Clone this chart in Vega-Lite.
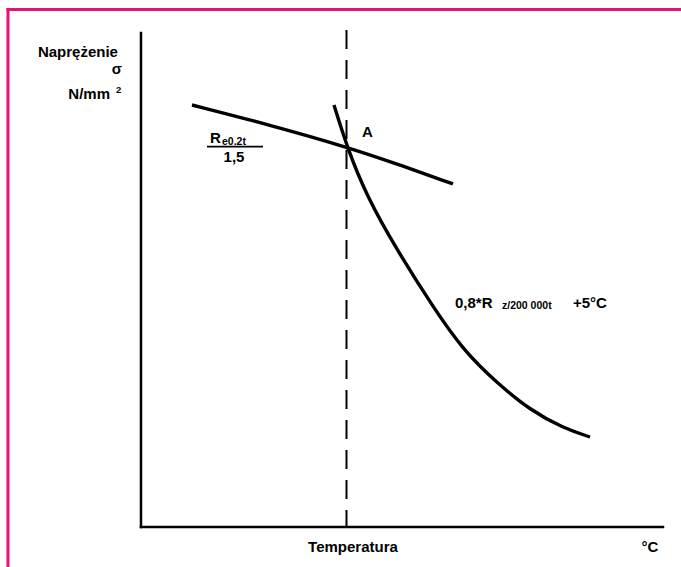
{
  "$schema": "https://vega.github.io/schema/vega-lite/v6.json",
  "width": 681,
  "height": 567,
  "autosize": {"type": "none"},
  "padding": 0,
  "background": "white",
  "config": {"view": {"stroke": null}},
  "layer": [
    {
      "data": {"values": [
        {"t": -25.48, "s": 105.18, "t2": 104, "s2": 105.18},
        {"t": -25.48, "s": 105.18, "t2": -25.48, "s2": -9}
      ]},
      "mark": {"type": "rule", "color": "#e4137b", "strokeWidth": 3, "strokeCap": "square"},
      "encoding": {
        "x": {"field": "t", "type": "quantitative", "scale": {"domain": [-27.01, 103.45], "nice": false, "zero": false}, "axis": null},
        "y": {"field": "s", "type": "quantitative", "scale": {"domain": [-8.13, 107.11], "nice": false, "zero": false}, "axis": null},
        "x2": {"field": "t2"},
        "y2": {"field": "s2"}
      }
    },
    {
      "data": {"values": [
        {"t": 0, "s": 100.4, "t2": 0, "s2": 0},
        {"t": 0, "s": 0, "t2": 100, "s2": 0}
      ]},
      "mark": {"type": "rule", "color": "black", "strokeWidth": 2.5, "strokeCap": "square"},
      "encoding": {
        "x": {"field": "t", "type": "quantitative", "scale": {"domain": [-27.01, 103.45], "nice": false, "zero": false}, "axis": null},
        "y": {"field": "s", "type": "quantitative", "scale": {"domain": [-8.13, 107.11], "nice": false, "zero": false}, "axis": null},
        "x2": {"field": "t2"},
        "y2": {"field": "s2"}
      }
    },
    {
      "data": {"values": [
        {"t": 39.37, "s": 101.02, "t2": 39.37, "s2": 0}
      ]},
      "mark": {"type": "rule", "color": "black", "strokeWidth": 2, "strokeDash": [19, 11]},
      "encoding": {
        "x": {"field": "t", "type": "quantitative", "scale": {"domain": [-27.01, 103.45], "nice": false, "zero": false}, "axis": null},
        "y": {"field": "s", "type": "quantitative", "scale": {"domain": [-8.13, 107.11], "nice": false, "zero": false}, "axis": null},
        "x2": {"field": "t2"},
        "y2": {"field": "s2"}
      }
    },
    {
      "data": {"values": [
        {"t": 12.64, "s": 77.3, "t2": 23.37, "s2": 77.3}
      ]},
      "mark": {"type": "rule", "color": "black", "strokeWidth": 1.6},
      "encoding": {
        "x": {"field": "t", "type": "quantitative", "scale": {"domain": [-27.01, 103.45], "nice": false, "zero": false}, "axis": null},
        "y": {"field": "s", "type": "quantitative", "scale": {"domain": [-8.13, 107.11], "nice": false, "zero": false}, "axis": null},
        "x2": {"field": "t2"},
        "y2": {"field": "s2"}
      }
    },
    {
      "data": {"values": [
        {"series": "yield", "t": 9.77, "s": 85.77},
        {"series": "yield", "t": 24.71, "s": 81.71},
        {"series": "yield", "t": 39.46, "s": 77.24},
        {"series": "yield", "t": 49.62, "s": 73.58},
        {"series": "yield", "t": 59.77, "s": 69.72},
        {"series": "creep", "t": 36.97, "s": 85.77},
        {"series": "creep", "t": 39.46, "s": 77.24},
        {"series": "creep", "t": 43.3, "s": 67.07},
        {"series": "creep", "t": 49.04, "s": 56.3},
        {"series": "creep", "t": 55.94, "s": 44.72},
        {"series": "creep", "t": 61.69, "s": 35.98},
        {"series": "creep", "t": 68.2, "s": 29.27},
        {"series": "creep", "t": 74.52, "s": 23.78},
        {"series": "creep", "t": 80.84, "s": 20.12},
        {"series": "creep", "t": 86.02, "s": 18.29}
      ]},
      "mark": {"type": "line", "color": "black", "strokeWidth": 3.4, "interpolate": "basis"},
      "encoding": {
        "x": {"field": "t", "type": "quantitative", "scale": {"domain": [-27.01, 103.45], "nice": false, "zero": false}, "axis": null},
        "y": {"field": "s", "type": "quantitative", "scale": {"domain": [-8.13, 107.11], "nice": false, "zero": false}, "axis": null},
        "detail": {"field": "series"}
      }
    },
    {
      "data": {"values": [
        {"t": -4.41, "s": 95.53, "label": "Naprężenie"},
        {"t": -3.64, "s": 92.07, "label": "σ"},
        {"t": -5.94, "s": 86.99, "label": "N/mm"}
      ]},
      "mark": {"type": "text", "align": "right", "baseline": "alphabetic", "font": "Liberation Sans", "fontWeight": "bold", "fontSize": 15, "color": "black"},
      "encoding": {
        "x": {"field": "t", "type": "quantitative", "scale": {"domain": [-27.01, 103.45], "nice": false, "zero": false}, "axis": null},
        "y": {"field": "s", "type": "quantitative", "scale": {"domain": [-8.13, 107.11], "nice": false, "zero": false}, "axis": null},
        "text": {"field": "label"}
      }
    },
    {
      "data": {"values": [
        {"t": 13.22, "s": 78.05, "label": "R"},
        {"t": 60.15, "s": 44.51, "label": "0,8*R"},
        {"t": 82.76, "s": 44.51, "label": "+5°C"}
      ]},
      "mark": {"type": "text", "align": "left", "baseline": "alphabetic", "font": "Liberation Sans", "fontWeight": "bold", "fontSize": 15, "color": "black"},
      "encoding": {
        "x": {"field": "t", "type": "quantitative", "scale": {"domain": [-27.01, 103.45], "nice": false, "zero": false}, "axis": null},
        "y": {"field": "s", "type": "quantitative", "scale": {"domain": [-8.13, 107.11], "nice": false, "zero": false}, "axis": null},
        "text": {"field": "label"}
      }
    },
    {
      "data": {"values": [
        {"t": 15.52, "s": 77.74, "label": "e0.2t"},
        {"t": 69.16, "s": 44.21, "label": "z/200 000t"}
      ]},
      "mark": {"type": "text", "align": "left", "baseline": "alphabetic", "font": "Liberation Sans", "fontWeight": "bold", "fontSize": 10.5, "color": "black"},
      "encoding": {
        "x": {"field": "t", "type": "quantitative", "scale": {"domain": [-27.01, 103.45], "nice": false, "zero": false}, "axis": null},
        "y": {"field": "s", "type": "quantitative", "scale": {"domain": [-8.13, 107.11], "nice": false, "zero": false}, "axis": null},
        "text": {"field": "label"}
      }
    },
    {
      "data": {"values": [
        {"t": -4.79, "s": 88.21, "label": "2"}
      ]},
      "mark": {"type": "text", "align": "left", "baseline": "alphabetic", "font": "Liberation Sans", "fontWeight": "bold", "fontSize": 9.5, "color": "black"},
      "encoding": {
        "x": {"field": "t", "type": "quantitative", "scale": {"domain": [-27.01, 103.45], "nice": false, "zero": false}, "axis": null},
        "y": {"field": "s", "type": "quantitative", "scale": {"domain": [-8.13, 107.11], "nice": false, "zero": false}, "axis": null},
        "text": {"field": "label"}
      }
    },
    {
      "data": {"values": [
        {"t": 43.39, "s": 79.27, "label": "A"},
        {"t": 17.82, "s": 74.19, "label": "1,5"},
        {"t": 40.61, "s": -5.08, "label": "Temperatura"},
        {"t": 97.51, "s": -5.08, "label": "°C"}
      ]},
      "mark": {"type": "text", "align": "center", "baseline": "alphabetic", "font": "Liberation Sans", "fontWeight": "bold", "fontSize": 15, "color": "black"},
      "encoding": {
        "x": {"field": "t", "type": "quantitative", "scale": {"domain": [-27.01, 103.45], "nice": false, "zero": false}, "axis": null},
        "y": {"field": "s", "type": "quantitative", "scale": {"domain": [-8.13, 107.11], "nice": false, "zero": false}, "axis": null},
        "text": {"field": "label"}
      }
    }
  ]
}
